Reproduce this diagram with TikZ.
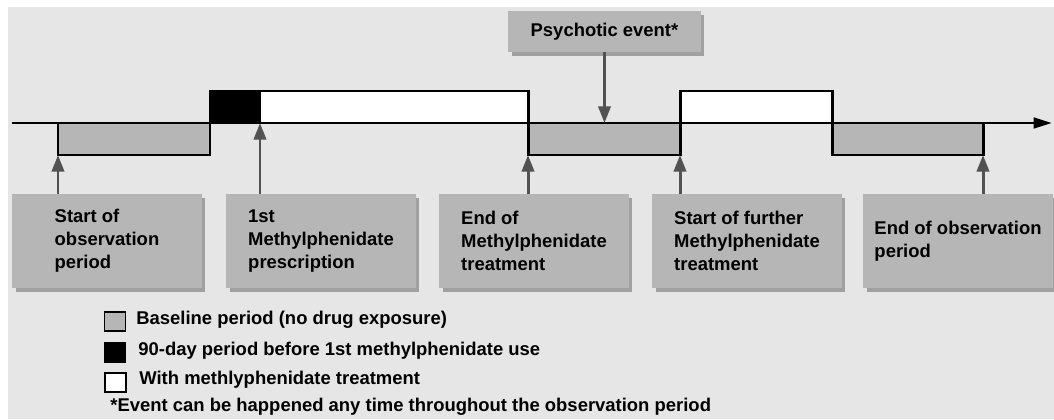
\documentclass[tikz,border=0pt]{standalone}
\usepackage{fontspec}
\setmainfont{Liberation Sans}
\usepackage{tikz}
\usetikzlibrary{arrows.meta,shadows}
\definecolor{bggray}{HTML}{E6E6E6}
\definecolor{boxgray}{HTML}{B6B6B6}
\definecolor{shadowgray}{HTML}{A0A0A0}
\definecolor{arrowgray}{HTML}{525252}

\begin{document}
\begin{tikzpicture}[x=0.02cm,y=-0.02cm,
    every node/.style={font=\fontsize{10.5}{13}\selectfont\bfseries},
    labelbox/.style={rectangle,fill=boxgray,align=left,inner sep=0pt,
      minimum width=3.8cm,minimum height=1.88cm,
      drop shadow={shadow xshift=0.07cm,shadow yshift=-0.08cm,fill=shadowgray,opacity=1}},
    period/.style={draw=black,line width=1.7pt},
    uparrow/.style={draw=arrowgray,line width=1.7pt,-{Triangle[length=9.5pt,width=7pt]}},
    legendsq/.style={rectangle,draw=black,line width=1pt,minimum width=0.42cm,minimum height=0.38cm,inner sep=0pt},
    legendtxt/.style={anchor=west,inner sep=0pt}]
  \useasboundingbox (0,0) rectangle (1054,419);
  \fill[white] (0,0) rectangle (1054,419);
  \fill[bggray] (8,7) rectangle (1054,419);

  % periods along the time axis
  \draw[period,fill=boxgray] (58,123) rectangle (210,155);
  \draw[period,fill=black] (210,91) rectangle (260,123);
  \draw[period,fill=white] (260,91) rectangle (528,123);
  \draw[period,fill=boxgray] (528,123) rectangle (680,155);
  \draw[period,fill=white] (680,91) rectangle (832,123);
  \draw[period,fill=boxgray] (832,123) rectangle (983,155);
  \coordinate (axisl) at (12,123);
  \coordinate (axisr) at (1052,123);
  \draw[line width=1.7pt,-{Triangle[length=10.5pt,width=6pt]}] (axisl) -- (axisr);

  % event
  \node (event) at (604.5,31.5) [labelbox,minimum width=3.86cm,minimum height=0.82cm] {Psychotic event*};
  \coordinate (eventpt) at (604.5,123);
  \draw[uparrow] (event.south) -- (eventpt);

  % milestones
  \node (obsstart) at (107,241) [labelbox] {Start of\\observation\\period};
  \node (firstrx) at (321,241) [labelbox] {1st\\Methylphenidate\\prescription};
  \node (txend) at (534,241) [labelbox] {End of\\Methylphenidate\\treatment};
  \node (txrestart) at (747,241) [labelbox] {Start of further\\Methylphenidate\\treatment};
  \node (obsend) at (958,241) [labelbox] {End of observation\\period};
  \coordinate (obsstartpt) at (58,155);
  \coordinate (firstrxpt) at (260,123);
  \coordinate (txendpt) at (528,155);
  \coordinate (txrestartpt) at (680,155);
  \coordinate (obsendpt) at (983,155);
  \draw[uparrow] (obsstartpt |- obsstart.north) -- (obsstartpt);
  \draw[uparrow] (firstrxpt |- firstrx.north) -- (firstrxpt);
  \draw[uparrow] (txendpt |- txend.north) -- (txendpt);
  \draw[uparrow] (txrestartpt |- txrestart.north) -- (txrestartpt);
  \draw[uparrow] (obsendpt |- obsend.north) -- (obsendpt);

  % legend
  \node (lgbase) at (115,321.5) [legendsq,fill=boxgray] {};
  \node (lgpre) at (115,352.5) [legendsq,fill=black] {};
  \node (lgtx) at (115.5,382.5) [legendsq,fill=white] {};
  \node (lgbasetxt) at (136,320) [legendtxt] {Baseline period (no drug exposure)};
  \node (lgpretxt) at (138,351) [legendtxt] {90-day period before 1st methylphenidate use};
  \node (lgtxtxt) at (139,380) [legendtxt] {With methlyphenidate treatment};
  \node (note) at (110,407) [legendtxt] {*Event can be happened any time throughout the observation period};
\end{tikzpicture}
\end{document}
